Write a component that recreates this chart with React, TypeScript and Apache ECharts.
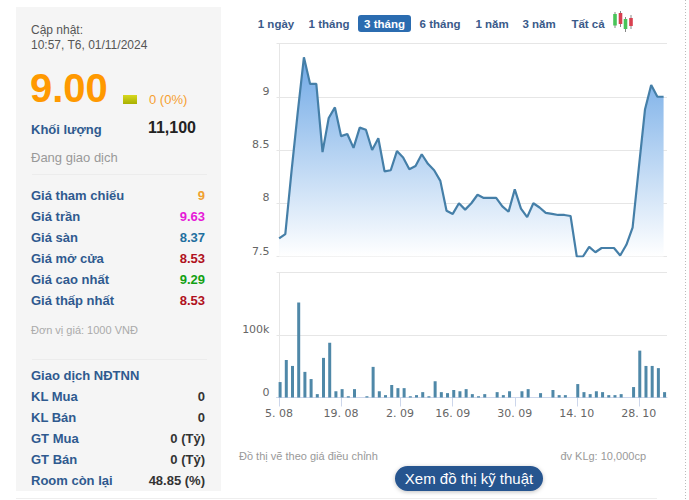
import React, { useEffect, useRef } from "react";
import * as echarts from "echarts";

const prices = [7.67,7.71,8.3,8.85,9.37,9.12,9.12,8.48,8.8,8.9,8.63,8.65,8.52,8.71,8.69,8.5,8.61,8.3,8.31,8.49,8.43,8.32,8.35,8.46,8.37,8.31,8.21,7.93,7.9,8.0,7.94,8.0,8.08,8.05,8.05,8.05,7.97,7.92,8.13,7.95,7.87,8.0,7.96,7.91,7.9,7.89,7.89,7.88,7.5,7.5,7.59,7.54,7.58,7.58,7.58,7.51,7.61,7.77,8.33,8.88,9.11,9.0,9.0];
const volumes = [24700,60000,50500,152000,41000,29500,5400,63400,87600,10000,13400,2000,13400,0,2000,49000,10000,3800,20000,15000,15000,2000,3800,8600,2000,26000,8600,7000,12000,10000,13400,5400,2000,5400,0,8600,3800,10000,0,10000,13400,0,7000,0,12000,3800,3800,0,21500,8600,5400,10000,8600,3800,3800,5400,0,16700,75000,50500,50500,47000,8600];
const tickPositions = [0, 10, 19.5, 28, 38, 48, 58];
const tickLabels = ["5. 08", "19. 08", "2. 09", "16. 09", "30. 09", "14. 10", "28. 10"];
const priceRows = [["Giá tham chiếu","9","#f0a030"],["Giá trần","9.63","#e619d8"],["Giá sàn","8.37","#1f6f9f"],["Giá mở cửa","8.53","#b01020"],["Giá cao nhất","9.29","#12a012"],["Giá thấp nhất","8.53","#b01020"]];
const foreignRows = [["KL Mua","0"],["KL Bán","0"],["GT Mua","0 (Tỷ)"],["GT Bán","0 (Tỷ)"],["Room còn lại","48.85 (%)"]];
const tabs: [string, number][] = [["1 ngày",276],["1 tháng",329],["3 tháng",384.5],["6 tháng",440],["1 năm",492],["3 năm",539],["Tất cả",588]];

const FONT = "'Liberation Sans', Arial, sans-serif";
const BLUE = "#2f5a8f";

function txt(x: number, y: number, text: string, size: number, fill: string, bold = false, align = "left") {
  return { type: "text", x, y, silent: true, style: { text, fill, align, verticalAlign: "middle", font: `${bold ? "bold " : ""}${size}px ${FONT}` } };
}
function rc(x: number, y: number, width: number, height: number, fill: any, r = 0, extra: any = {}) {
  return { type: "rect", silent: true, shape: { x, y, width, height, r }, style: { fill, ...extra } };
}
function ln(x1: number, y1: number, x2: number, y2: number, stroke: string, extra: any = {}) {
  return { type: "line", silent: true, shape: { x1, y1, x2, y2 }, style: { stroke, lineWidth: 1, ...extra } };
}

function buildGraphics() {
  const g: any[] = [];
  g.push({ ...rc(16, 7, 205, 484, "#f5f5f5"), z: -1 });
  g.push(txt(31, 30, "Cập nhật:", 12, "#555"));
  g.push(txt(31, 44.5, "10:57, T6, 01/11/2024", 12, "#555"));
  g.push(txt(30, 88, "9.00", 40, "#ff9900", true));
  g.push(rc(123, 95, 14, 9, new echarts.graphic.LinearGradient(0, 0, 0, 1, [{ offset: 0, color: "#d8d820" }, { offset: 1, color: "#a8b000" }])));
  g.push(txt(149, 99, "0 (0%)", 13, "#f5a030"));
  g.push(txt(31, 129.5, "Khối lượng", 13, BLUE, true));
  g.push(txt(196, 127, "11,100", 16, "#222", true, "right"));
  g.push(txt(31, 157, "Đang giao dịch", 13, "#999"));
  g.push(ln(32, 174.5, 207, 174.5, "#ececec"));
  priceRows.forEach((r, i) => {
    const y = 195 + i * 21;
    g.push(txt(31, y, r[0], 13, BLUE, true));
    g.push(txt(205, y, r[1], 13, r[2], true, "right"));
  });
  g.push(txt(31, 330, "Đơn vị giá: 1000 VNĐ", 11, "#aaa"));
  g.push(ln(32, 359.5, 207, 359.5, "#ececec"));
  g.push(txt(31, 375, "Giao dịch NĐTNN", 13, BLUE, true));
  foreignRows.forEach((r, i) => {
    const y = 396 + i * 21;
    g.push(txt(31, y, r[0], 13, BLUE, true));
    g.push(txt(205, y, r[1], 13, "#333", true, "right"));
  });
  g.push(rc(358, 15, 53, 17, "#2b6cb0", 3));
  tabs.forEach((t, i) => g.push(txt(t[1], 23.5, t[0], 11.5, i === 2 ? "#fff" : "#3a5a8a", true, "center")));
  g.push(ln(615, 12, 615, 28, "#888"), rc(613.2, 14, 3.6, 11.5, "#48c458"));
  g.push(ln(620.5, 11, 620.5, 27, "#888"), rc(618.7, 13, 3.6, 11, "#d84050"));
  g.push(ln(625.5, 17, 625.5, 32, "#888"), rc(623.7, 19, 3.6, 10, "#48c458"));
  g.push(ln(631, 15, 631, 29, "#888"), rc(629.2, 18, 3.6, 8, "#d84050"));
  g.push(txt(239, 456, "Đồ thị vẽ theo giá điều chỉnh", 11, "#999"));
  g.push(txt(646, 456, "đv KLg: 10,000cp", 11, "#999", false, "right"));
  g.push(rc(395, 466, 148, 25, "#27548f", 12.5, { shadowBlur: 4, shadowColor: "rgba(0,0,0,0.25)", shadowOffsetY: 1 }));
  g.push(txt(469, 478.5, "Xem đồ thị kỹ thuật", 15, "#fff", false, "center"));
  g.push(ln(685.5, 0, 685.5, 500, "#bbb", { lineDash: [1, 2] }));
  g.push(ln(16, 498.5, 657, 498.5, "#eee"));
  return g;
}

export default function App() {
  const ref = useRef<HTMLDivElement>(null);
  useEffect(() => {
    const chart = echarts.init(ref.current!, undefined, { renderer: "svg" });
    const xMin = -0.42;
    const xMax = 62.55;
    const axisText = { color: "#666", fontSize: 11, fontFamily: "'DejaVu Sans', sans-serif" };
    const labelOf = (v: number) => tickLabels[tickPositions.indexOf(v)] ?? "";
    chart.setOption({
      animation: false,
      backgroundColor: "#fff",
      graphic: buildGraphics(),
      grid: [
        { left: 276.5, width: 390.5, top: 43.5, height: 213, containLabel: false },
        { left: 276.5, width: 390.5, top: 272.5, height: 125 },
      ],
      xAxis: [
        { type: "value", gridIndex: 0, min: xMin, max: xMax, axisLabel: { show: false }, axisTick: { show: false }, splitLine: { show: false }, axisLine: { show: false } },
        {
          type: "value", gridIndex: 1, min: xMin, max: xMax, splitLine: { show: false },
          axisLine: { show: true, onZero: false, lineStyle: { color: "#ccd6eb" } },
          axisTick: { show: true, length: 9, customValues: tickPositions, lineStyle: { color: "#ccd6eb" } },
          axisLabel: { ...axisText, margin: 10, customValues: tickPositions, formatter: labelOf, hideOverlap: false, showMinLabel: true, showMaxLabel: true },
        },
      ],
      yAxis: [
        {
          type: "value", gridIndex: 0, min: 7.5, max: 9.5, interval: 0.5,
          axisLine: { show: true, lineStyle: { color: "#e6e6e6" } }, axisTick: { show: false },
          splitLine: { lineStyle: { color: "#e6e6e6" } },
          axisLabel: { ...axisText, margin: 7, verticalAlign: "bottom", formatter: (v: number) => (v >= 9.5 ? "" : String(v)) },
        },
        {
          type: "value", gridIndex: 1, min: 0, max: 200000, interval: 100000,
          axisLine: { show: true, lineStyle: { color: "#e6e6e6" } }, axisTick: { show: false },
          splitLine: { lineStyle: { color: "#e6e6e6" } },
          axisLabel: { ...axisText, margin: 7, verticalAlign: "bottom", formatter: (v: number) => (v === 0 ? "0" : v === 100000 ? "100k" : "") },
        },
      ],
      series: [
        {
          type: "line", xAxisIndex: 0, yAxisIndex: 0, symbol: "none", smooth: false,
          data: prices.map((p, i) => [i, p]),
          lineStyle: { color: "#457fa8", width: 2.2 },
          areaStyle: { opacity: 1, color: new echarts.graphic.LinearGradient(0, 0, 0, 1, [{ offset: 0, color: "#70a9e6" }, { offset: 1, color: "#ffffff" }]) },
        },
        {
          type: "bar", xAxisIndex: 1, yAxisIndex: 1, barWidth: 3,
          data: volumes.map((v, i) => [i + 0.16, v]),
          itemStyle: { color: "#4f88a8" },
        },
      ],
    });
    return () => chart.dispose();
  }, []);
  return <div ref={ref} style={{ position: "fixed", left: 0, top: 0, width: 689, height: 500 }} />;
}
